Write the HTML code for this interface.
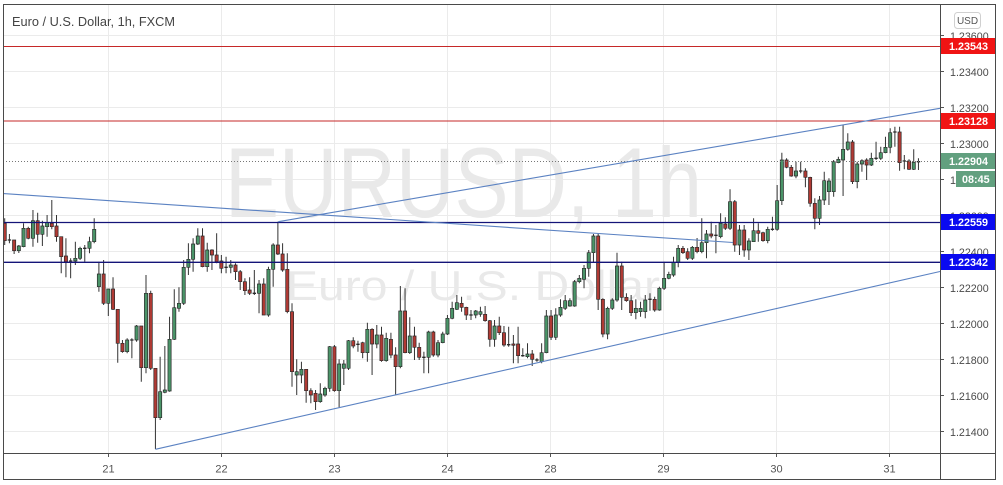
<!DOCTYPE html>
<html><head><meta charset="utf-8"><style>
html,body{margin:0;padding:0;background:#fff;}
svg{display:block;font-family:"Liberation Sans",Arial,sans-serif;}
.nv{vector-effect:non-scaling-stroke;}
</style></head><body>
<svg width="1003" height="485" viewBox="0 0 1003 485" xmlns="http://www.w3.org/2000/svg">
<defs><clipPath id="c"><rect x="3.5" y="4.5" width="937" height="449"/></clipPath></defs>
<rect width="1003" height="485" fill="#fff"/>
<g stroke="#ebebeb" stroke-width="1">
<path d="M3 35.5H940M3 71.5H940M3 107.5H940M3 143.5H940M3 179.5H940M3 215.5H940M3 251.5H940M3 287.5H940M3 323.5H940M3 359.5H940M3 395.5H940M3 431.5H940"/>
<path d="M108.5 4V453M221.5 4V453M334.5 4V453M447.5 4V453M550.5 4V453M663.5 4V453M776.5 4V453M889.5 4V453"/>
</g>
<g fill="#e9e9e9">
<text x="225" y="217" font-size="99" textLength="477" lengthAdjust="spacingAndGlyphs">EURUSD, 1h</text>
<text x="286" y="300" font-size="42" textLength="374" lengthAdjust="spacingAndGlyphs">Euro / U.S. Dollar</text>
</g>
<g clip-path="url(#c)">
<g transform="translate(4.7,0) scale(4.71,1)">
<path class="nv" fill="none" stroke="#333" stroke-width="1" d="M0 218.3V245M1 234V243.3M2 240V254M3 245V253M4 223.3V247.3M5 226.7V239.3M6 210V246.7M7 212.7V242.7M8 220.7V246M9 215V236.7M10 200V229.3M11 215V241.7M12 236.7V273.3M13 238.3V277.3M14 258.3V278.3M15 241.7V265M16 246.7V260M17 245V261.7M18 236.7V253.3M19 218.3V243.3M20 261.7V291.7M21 260V305M22 289V316M23 277.3V310M24 309.3V362.7M25 340V352.7M26 338.3V353.3M27 338.3V358.3M28 325V341.7M29 326V381.7M30 275V373.3M31 290.7V370M32 368.3V449M33 356.7V420M34 346V393.3M35 316.7V391.7M36 289.3V340M37 287.3V311.7M38 260V305M39 243.3V275M40 238.3V271.7M41 228.3V245M42 228.3V267.3M43 242.7V271.7M44 249.3V270M45 233.3V263.3M46 255V273.3M47 256.7V273.3M48 260V273.3M49 263.3V280M50 270V290M51 278.3V295M52 277.3V295M53 270V295M54 280V313.3M55 278.3V315M56 266.7V316.7M57 243.3V286.7M58 221.7V255M59 243.3V271.7M60 253.3V313.3M61 303.3V386.7M62 359.3V395M63 361.7V383.3M64 369.3V402.7M65 388.3V403.3M66 390V410M67 383.3V402.7M68 386.7V396.7M69 346V391.7M70 345V391.7M71 359.3V407.3M72 360V385M73 340V370M74 337.3V348.3M75 340.7V351.7M76 341.7V358.3M77 322.7V361.7M78 328.3V375M79 325V348.3M80 326.7V361.7M81 332.7V361.7M82 332.7V358.3M83 347.3V395M84 286V368.3M85 288.3V353.3M86 317.3V354M87 326.7V360M88 342.7V360M89 351.7V373.3M90 330.7V373.3M91 330.7V356.7M92 340V357.3M93 331.7V343.3M94 315V335M95 301.7V319.3M96 295V310M97 296.7V311.7M98 306.7V320M99 310V320M100 310V318.3M101 306.7V316.7M102 306V321.7M103 320V346.7M104 320V346.7M105 316.7V335M106 326V346.7M107 326.7V346.7M108 335V363.3M109 326.7V363.3M110 348.3V356.7M111 343.3V358.3M112 350V366M113 358.3V361.7M114 343.3V363.3M115 310V353.3M116 310V340M117 308.3V340M118 299.3V316.7M119 295V310M120 298.3V306.7M121 280V306.7M122 275V283.3M123 265V288.3M124 250V276.7M125 234V262.7M126 234V310M127 298.3V337.3M128 306.7V339.3M129 298.3V310M130 252.7V301.7M131 261.7V310M132 293.3V301.7M133 295V316M134 299.3V319.3M135 301.7V316.7M136 295V318.3M137 293.3V310.7M138 296.7V311.7M139 286.7V310.7M140 261.7V290M141 271.7V279.3M142 256.7V276.7M143 245V267.3M144 246V254M145 248.3V260M146 246V260M147 238V253.3M148 218.3V253.3M149 230V258.3M150 221.7V238.3M151 225V253.3M152 213.3V238.3M153 217.3V230M154 189.3V230M155 200V251.7M156 225V255M157 225V256.7M158 238.3V260M159 218.3V241.7M160 223.3V241.7M161 231.7V241.7M162 226.7V243.3M163 216.7V230.7M164 185V230.7M165 152.7V205M166 158.3V168.3M167 165V176.7M168 161.7V178.3M169 161.7V173.3M170 168.3V187.3M171 176.7V206.7M172 198.3V229.3M173 196V225M174 171.7V205M175 178.3V205M176 160V196.7M177 156.7V163.3M178 125V196M179 133.3V150.7M180 140V184M181 161.7V188.3M182 159.3V171.7M183 158.3V180M184 152.7V166M185 141.7V160M186 146.7V160M187 136.7V153.3M188 128.3V153.3M189 126.7V146.7M190 126.7V170.7M191 155V169.3M192 159.3V170M193 149.3V170M194 158.3V170"/>
<path class="nv" fill="#b03a34" stroke="#2a2a2a" stroke-width="0.7" d="M0 223.3m-.34 0h.68v17.4h-.68zM2 240m-.34 0h.68v10.7h-.68zM5 228.3m-.34 0h.68v10h-.68zM7 220.7m-.34 0h.68v13.6h-.68zM10 223.3m-.34 0h.68v3.4h-.68zM11 226m-.34 0h.68v10.7h-.68zM12 236.7m-.34 0h.68v20h-.68zM13 256m-.34 0h.68v5.7h-.68zM21 274m-.34 0h.68v29.3h-.68zM23 289m-.34 0h.68v20.3h-.68zM24 309.3m-.34 0h.68v34h-.68zM25 343.3m-.34 0h.68v8.4h-.68zM29 326m-.34 0h.68v41.7h-.68zM31 293.3m-.34 0h.68v75h-.68zM32 368.3m-.34 0h.68v49.4h-.68zM42 236m-.34 0h.68v30.7h-.68zM44 250m-.34 0h.68v5h-.68zM45 255m-.34 0h.68v6.7h-.68zM46 261m-.34 0h.68v7.3h-.68zM49 265m-.34 0h.68v6.7h-.68zM50 271.7m-.34 0h.68v10h-.68zM51 281.7m-.34 0h.68v9h-.68zM52 290m-.34 0h.68v3.3h-.68zM55 284m-.34 0h.68v31h-.68zM58 245m-.34 0h.68v9h-.68zM59 254m-.34 0h.68v16h-.68zM60 269.3m-.34 0h.68v42.4h-.68zM61 311.7m-.34 0h.68v60h-.68zM64 369.3m-.34 0h.68v21.4h-.68zM65 390.7m-.34 0h.68v4.3h-.68zM66 393.3m-.34 0h.68v8.4h-.68zM70 346.7m-.34 0h.68v44h-.68zM74 340.7m-.34 0h.68v5.3h-.68zM76 342.7m-.34 0h.68v10h-.68zM78 329.3m-.34 0h.68v14.7h-.68zM80 335m-.34 0h.68v25.7h-.68zM82 339.3m-.34 0h.68v15.7h-.68zM83 355m-.34 0h.68v11.7h-.68zM85 311m-.34 0h.68v41.7h-.68zM87 336m-.34 0h.68v11.3h-.68zM88 347.3m-.34 0h.68v10h-.68zM91 332m-.34 0h.68v23h-.68zM97 303.3m-.34 0h.68v4h-.68zM98 307.3m-.34 0h.68v7.7h-.68zM102 314.3m-.34 0h.68v6.4h-.68zM103 320.7m-.34 0h.68v18.6h-.68zM105 326m-.34 0h.68v6.7h-.68zM106 332.7m-.34 0h.68v12.3h-.68zM108 344m-.34 0h.68v1.3h-.68zM109 344m-.34 0h.68v11.7h-.68zM112 354m-.34 0h.68v5.3h-.68zM116 316m-.34 0h.68v21.3h-.68zM126 236m-.34 0h.68v63.3h-.68zM127 299.3m-.34 0h.68v34.7h-.68zM131 266m-.34 0h.68v31.3h-.68zM132 297.3m-.34 0h.68v3.4h-.68zM133 300.7m-.34 0h.68v12h-.68zM138 299.3m-.34 0h.68v10.7h-.68zM144 248.3m-.34 0h.68v4.4h-.68zM145 251.7m-.34 0h.68v6.6h-.68zM147 247.3m-.34 0h.68v4.4h-.68zM150 234m-.34 0h.68v2h-.68zM153 224m-.34 0h.68v4.3h-.68zM155 201.7m-.34 0h.68v43.3h-.68zM157 230m-.34 0h.68v20h-.68zM160 230.7m-.34 0h.68v2.6h-.68zM161 232.7m-.34 0h.68v8h-.68zM166 160m-.34 0h.68v7.3h-.68zM167 167.3m-.34 0h.68v8.7h-.68zM170 171m-.34 0h.68v6.3h-.68zM171 177.3m-.34 0h.68v26h-.68zM172 203.3m-.34 0h.68v15h-.68zM180 142m-.34 0h.68v39.7h-.68zM183 160m-.34 0h.68v5h-.68zM190 132m-.34 0h.68v30.7h-.68zM192 161m-.34 0h.68v8.3h-.68z"/>
<path class="nv" fill="#4a9468" stroke="#2a2a2a" stroke-width="0.7" d="M3 246m-.34 0h.68v4.7h-.68zM4 228.3m-.34 0h.68v18.4h-.68zM6 220.7m-.34 0h.68v17.6h-.68zM8 226m-.34 0h.68v8.3h-.68zM9 222.7m-.34 0h.68v4h-.68zM15 258.3m-.34 0h.68v2.7h-.68zM16 248.3m-.34 0h.68v10h-.68zM18 241.7m-.34 0h.68v6.6h-.68zM19 229.3m-.34 0h.68v12.4h-.68zM20 274m-.34 0h.68v12.7h-.68zM22 289m-.34 0h.68v14.3h-.68zM26 340m-.34 0h.68v11.7h-.68zM28 326m-.34 0h.68v14h-.68zM30 293.3m-.34 0h.68v74.4h-.68zM33 391.7m-.34 0h.68v26h-.68zM34 390m-.34 0h.68v2.3h-.68zM35 339.3m-.34 0h.68v51.7h-.68zM36 307.7m-.34 0h.68v31.6h-.68zM37 303.3m-.34 0h.68v5h-.68zM38 267.3m-.34 0h.68v36h-.68zM39 259.3m-.34 0h.68v8h-.68zM40 244m-.34 0h.68v15.3h-.68zM41 236m-.34 0h.68v8h-.68zM43 250m-.34 0h.68v16.7h-.68zM48 265m-.34 0h.68v2.3h-.68zM54 284m-.34 0h.68v9.3h-.68zM56 269.3m-.34 0h.68v45.7h-.68zM57 245m-.34 0h.68v24.3h-.68zM62 371.7m-.34 0h.68v3.3h-.68zM63 369.3m-.34 0h.68v5.7h-.68zM67 394m-.34 0h.68v7.7h-.68zM68 388.3m-.34 0h.68v6.7h-.68zM69 346.7m-.34 0h.68v41.6h-.68zM71 364m-.34 0h.68v26.7h-.68zM72 364m-.34 0h.68v4.3h-.68zM73 340.7m-.34 0h.68v27.6h-.68zM77 329.3m-.34 0h.68v23.4h-.68zM79 335m-.34 0h.68v9h-.68zM81 338.3m-.34 0h.68v22.4h-.68zM84 311m-.34 0h.68v55.7h-.68zM86 336m-.34 0h.68v16.7h-.68zM90 332m-.34 0h.68v25.3h-.68zM92 342.7m-.34 0h.68v12.3h-.68zM93 334m-.34 0h.68v8.7h-.68zM94 318.3m-.34 0h.68v15.7h-.68zM95 308.3m-.34 0h.68v10h-.68zM96 302.7m-.34 0h.68v6.6h-.68zM100 311m-.34 0h.68v4h-.68zM101 311.7m-.34 0h.68v2.6h-.68zM104 326m-.34 0h.68v13.3h-.68zM111 354m-.34 0h.68v2.7h-.68zM114 352.7m-.34 0h.68v9h-.68zM115 316m-.34 0h.68v36.7h-.68zM117 315m-.34 0h.68v22.3h-.68zM118 307.3m-.34 0h.68v7.7h-.68zM119 300.7m-.34 0h.68v7.6h-.68zM120 300.7m-.34 0h.68v5.3h-.68zM121 281.7m-.34 0h.68v24.3h-.68zM122 278.3m-.34 0h.68v3.4h-.68zM123 268.3m-.34 0h.68v11h-.68zM124 252.7m-.34 0h.68v15.6h-.68zM125 236m-.34 0h.68v16.7h-.68zM128 308.3m-.34 0h.68v25.7h-.68zM129 300m-.34 0h.68v8.3h-.68zM130 266m-.34 0h.68v34h-.68zM134 308.3m-.34 0h.68v4.4h-.68zM135 308.3m-.34 0h.68v3.4h-.68zM136 300m-.34 0h.68v11.7h-.68zM139 288.3m-.34 0h.68v21.7h-.68zM140 278.3m-.34 0h.68v10h-.68zM141 274.3m-.34 0h.68v4h-.68zM142 262.7m-.34 0h.68v12.3h-.68zM143 248.3m-.34 0h.68v14.4h-.68zM146 247.3m-.34 0h.68v11h-.68zM148 242.7m-.34 0h.68v9h-.68zM149 234m-.34 0h.68v8.7h-.68zM152 223.3m-.34 0h.68v13.4h-.68zM154 201.7m-.34 0h.68v26.6h-.68zM156 230m-.34 0h.68v15h-.68zM158 241m-.34 0h.68v9h-.68zM159 230.7m-.34 0h.68v11h-.68zM162 229.3m-.34 0h.68v11.4h-.68zM164 200.7m-.34 0h.68v28.6h-.68zM165 160m-.34 0h.68v40.7h-.68zM168 171m-.34 0h.68v5h-.68zM173 200m-.34 0h.68v18.3h-.68zM174 180.7m-.34 0h.68v19.3h-.68zM175 181m-.34 0h.68v10.7h-.68zM176 161.7m-.34 0h.68v30h-.68zM177 159.3m-.34 0h.68v3.4h-.68zM178 149.3m-.34 0h.68v10.7h-.68zM179 142m-.34 0h.68v7.3h-.68zM181 164m-.34 0h.68v17.7h-.68zM182 160.7m-.34 0h.68v3.3h-.68zM184 158.3m-.34 0h.68v6.7h-.68zM186 152.7m-.34 0h.68v5.6h-.68zM187 147.3m-.34 0h.68v5.4h-.68zM188 132.7m-.34 0h.68v14.6h-.68zM193 162.3m-.34 0h.68v7h-.68z"/>
<path class="nv" fill="none" stroke="#2a2a2a" stroke-width="1.3" d="M1 240m-.36 0h.72M14 261m-.36 0h.72M17 248.3m-.36 0h.72M27 340m-.36 0h.72M47 267.3m-.36 0h.72M53 293.3m-.36 0h.72M75 344.3m-.36 0h.72M89 357.3m-.36 0h.72M99 315m-.36 0h.72M107 344.7m-.36 0h.72M110 355.7m-.36 0h.72M113 360m-.36 0h.72M137 299.3m-.36 0h.72M151 235.3m-.36 0h.72M163 229.3m-.36 0h.72M169 171m-.36 0h.72M185 158.3m-.36 0h.72M189 132m-.36 0h.72M191 161m-.36 0h.72M194 161.7m-.36 0h.72"/>
</g>
<path d="M3 161.5H940" stroke="#777" stroke-width="1" stroke-dasharray="1 2"/>
<path d="M3 46.5H940M3 121H940" stroke="#c62828" stroke-width="1.1"/>
<path d="M3 222.5H940M3 262.3H940" stroke="#141478" stroke-width="1.3"/>
<g stroke="#5b82c2" stroke-width="1.1" fill="none">
<path d="M278.3 221.7L940 108.3"/>
<path d="M3 193.5L733 242.5"/>
<path d="M155.4 449.3L940 271.5"/>
</g>
</g>
<text x="12" y="26" font-size="12.7" fill="#444" textLength="163" lengthAdjust="spacingAndGlyphs">Euro / U.S. Dollar, 1h, FXCM</text>
<g stroke="#555" stroke-width="1">
<path d="M940 35.5h4M940 71.5h4M940 107.5h4M940 143.5h4M940 179.5h4M940 215.5h4M940 251.5h4M940 287.5h4M940 323.5h4M940 359.5h4M940 395.5h4M940 431.5h4"/>
<path d="M108.5 453v4M221.5 453v4M334.5 453v4M447.5 453v4M550.5 453v4M663.5 453v4M776.5 453v4M889.5 453v4"/>
</g>
<g font-size="10.7" fill="#4a4a4a">
<text x="950" y="39.8">1.23600</text>
<text x="950" y="75.8">1.23400</text>
<text x="950" y="111.8">1.23200</text>
<text x="950" y="147.8">1.23000</text>
<text x="950" y="183.8">1.22800</text>
<text x="950" y="219.8">1.22600</text>
<text x="950" y="255.8">1.22400</text>
<text x="950" y="291.8">1.22200</text>
<text x="950" y="327.8">1.22000</text>
<text x="950" y="363.8">1.21800</text>
<text x="950" y="399.8">1.21600</text>
<text x="950" y="435.8">1.21400</text>
</g>
<g font-size="11" fill="#555" text-anchor="middle">
<text x="108.5" y="472.3">21</text>
<text x="221.5" y="472.3">22</text>
<text x="334.5" y="472.3">23</text>
<text x="447.5" y="472.3">24</text>
<text x="550.5" y="472.3">28</text>
<text x="663.5" y="472.3">29</text>
<text x="776.5" y="472.3">30</text>
<text x="889.5" y="472.3">31</text>
</g>
<rect x="940" y="38" width="56" height="16" fill="#f01414"/>
<rect x="940" y="113" width="56" height="16" fill="#f01414"/>
<rect x="940" y="153" width="56" height="16" fill="#62a07f"/>
<rect x="956" y="171" width="40" height="16" fill="#62a07f"/>
<rect x="940" y="214" width="56" height="16" fill="#0a0af0"/>
<rect x="940" y="254" width="56" height="16" fill="#0a0af0"/>
<g font-size="10.8" font-weight="bold" fill="#fff">
<text x="949" y="49.8">1.23543</text>
<text x="949" y="124.8">1.23128</text>
<text x="949" y="164.8">1.22904</text>
<text x="962" y="182.8">08:45</text>
<text x="949" y="225.8">1.22559</text>
<text x="949" y="265.8">1.22342</text>
</g>
<rect x="954.5" y="12.5" width="26" height="16" rx="3" fill="#fff" stroke="#d0d0d0"/>
<text x="967.5" y="24" font-size="10" fill="#555" text-anchor="middle">USD</text>
<g stroke="#4a4a4a" stroke-width="1" fill="none">
<rect x="3.5" y="4.5" width="992" height="475"/>
<path d="M940.5 4V480M3 453.5H996"/>
</g>
</svg>
</body></html>
